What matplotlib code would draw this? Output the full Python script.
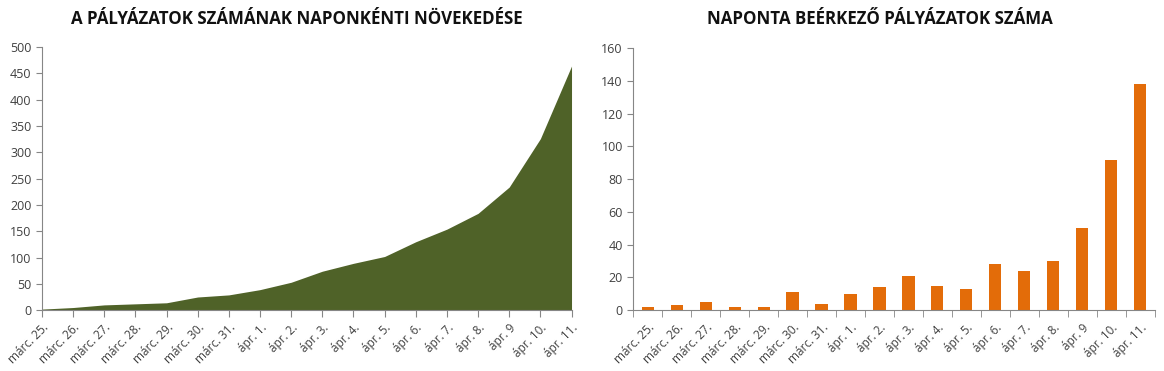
import matplotlib.pyplot as plt
import numpy as np

# data
days = ['márc. 25.', 'márc. 26.', 'márc. 27.', 'márc. 28.', 'márc. 29.',
        'márc. 30.', 'márc. 31.', 'ápr. 1.', 'ápr. 2.', 'ápr. 3.', 'ápr. 4.',
        'ápr. 5.', 'ápr. 6.', 'ápr. 7.', 'ápr. 8.', 'ápr. 9', 'ápr. 10.', 'ápr. 11.']
total = [2, 5, 10, 12, 14, 25, 29, 39, 53, 74, 89, 102, 130, 154, 184, 234, 326, 464]
daily = [2, 3, 5, 2, 2, 11, 4, 10, 14, 21, 15, 13, 28, 24, 30, 50, 92, 138]

green = '#4f6228'
orange = '#e36c09'
axis_grey = '#868686'
text_grey = '#404040'

plt.rcParams['font.family'] = ['Open Sans', 'DejaVu Sans']

fig = plt.figure(figsize=(11.64, 3.71), dpi=100)
ax1 = fig.add_axes([0.036, 0.164, 0.455, 0.709])
ax2 = fig.add_axes([0.544, 0.164, 0.448, 0.706])

x = np.arange(len(days))

#left: area
ax1.fill_between(x, total, 0, color=green, linewidth=0)
ax1.set_xlim(0, len(days) - 1)
ax1.set_ylim(0, 500)
ax1.set_yticks(range(0, 501, 50))
ax1.set_xticks(x)
ax1.set_xticklabels(days, rotation=45, ha='right', rotation_mode='anchor')

#right: bars
ax2.bar(x, daily, width=0.42, color=orange)
ax2.set_xlim(-0.5, len(days) - 0.5)
ax2.set_ylim(0, 160)
ax2.set_yticks(range(0, 161, 20))
ax2.set_xticks(x)
ax2.set_xticklabels(days, rotation=45, ha='right', rotation_mode='anchor')
ax2.set_xticks(np.arange(len(days) + 1) - 0.5, minor=True)
ax2.tick_params(axis='x', which='major', length=0, pad=8)
ax2.tick_params(axis='x', which='minor', length=5, color=axis_grey)

for ax in (ax1, ax2):
    for s in ('top', 'right'):
        ax.spines[s].set_visible(False)
    for s in ('left', 'bottom'):
        ax.spines[s].set_color(axis_grey)
    ax.tick_params(axis='y', length=4, color=axis_grey, labelsize=9, labelcolor=text_grey)
    ax.tick_params(axis='x', labelsize=8.5, labelcolor=text_grey)
ax1.tick_params(axis='x', length=5, color=axis_grey, pad=3)

fig.text(0.255, 0.95, 'A PÁLYÁZATOK SZÁMÁNAK NAPONKÉNTI NÖVEKEDÉSE',
         ha='center', va='center', fontsize=12.2, fontweight='bold', color='#111111')
fig.text(0.756, 0.95, 'NAPONTA BEÉRKEZŐ PÁLYÁZATOK SZÁMA',
         ha='center', va='center', fontsize=12.2, fontweight='bold', color='#111111')

fig.savefig('out.png', dpi=100)
